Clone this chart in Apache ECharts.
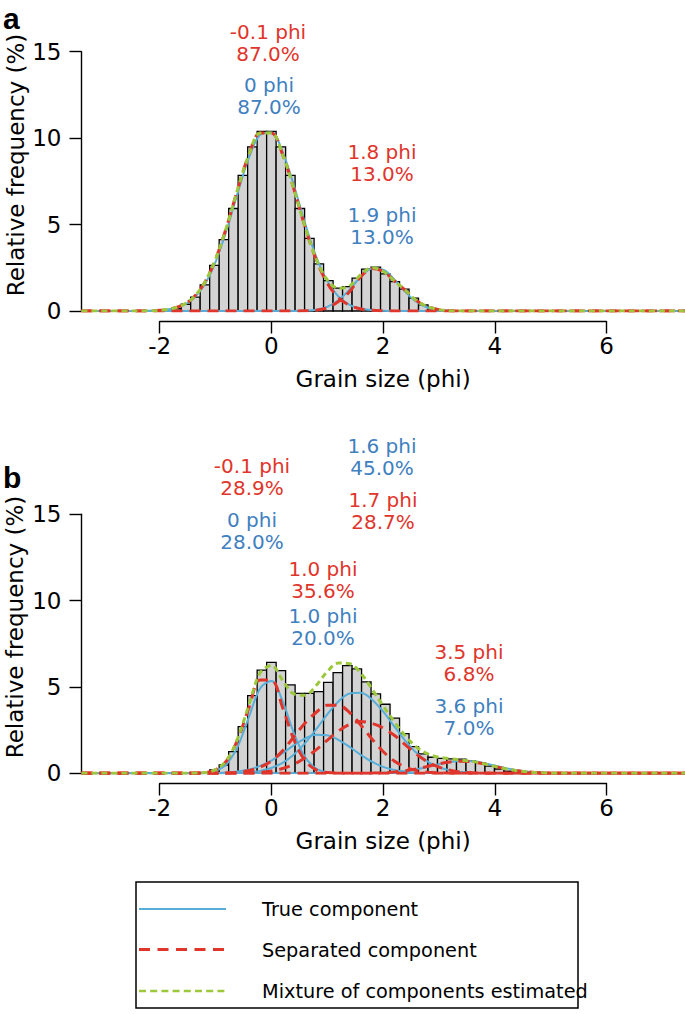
<!DOCTYPE html>
<html>
<head>
<meta charset="utf-8">
<script src="https://cdn.jsdelivr.net/npm/echarts@6/dist/echarts.min.js"></script>
<style>
html,body{margin:0;padding:0;background:#ffffff;}
#chart{width:685px;height:1014px;}
</style>
</head>
<body>
<div id="chart"></div>
<script>
// ---------------- DATA ----------------
const BIN_WIDTH = 0.17;
const xTicks = [-2, 0, 2, 4, 6];
const yTicks = [0, 5, 10, 15];

// panel a: histogram
const aBinCenters = [-1.87,-1.70,-1.53,-1.36,-1.19,-1.02,-0.85,-0.68,-0.51,-0.34,-0.17,0,0.17,0.34,0.51,0.68,0.85,1.02,1.19,1.36,1.53,1.70,1.87,2.04,2.21,2.38,2.55,2.72,2.89];
const aFrequency  = [0.04,0.13,0.39,0.8,1.51,2.64,4.13,5.93,7.85,9.5,10.39,10.39,9.5,7.85,5.93,4.2,2.73,1.76,1.32,1.41,1.9,2.42,2.54,2.15,1.7,1.26,0.74,0.35,0.12];

// panel a: curves
const aCurveX  = [-2.4,-2.2,-2.0,-1.8,-1.6,-1.4,-1.2,-1.0,-0.8,-0.6,-0.4,-0.2,0,0.2,0.4,0.6,0.8,1.0,1.2,1.4,1.6,1.8,2.0,2.2,2.4,2.6,2.8,3.0,3.2,3.4];
const aTrue1   = [0,0.01,0.04,0.11,0.30,0.71,1.51,2.83,4.69,6.86,8.88,10.2,10.33,9.21,7.30,5.11,3.16,1.73,0.84,0.36,0.14,0.05,0.01,0,0,0,0,0,0,0];
const aTrue2   = [0,0,0,0,0,0,0,0,0,0,0,0,0,0,0,0.02,0.07,0.24,0.62,1.24,1.97,2.45,2.39,1.83,1.10,0.52,0.19,0.06,0.01,0];
const aSep1    = [0,0.01,0.04,0.12,0.33,0.77,1.62,2.99,4.89,7.08,9.06,10.3,10.3,9.06,7.08,4.89,2.99,1.62,0.77,0.33,0.12,0.04,0.01,0,0,0,0,0,0,0];
const aSep2    = [0,0,0,0,0,0,0,0,0,0,0,0,0,0,0,0.01,0.04,0.18,0.55,1.12,1.98,2.46,2.29,1.75,1.20,0.60,0.25,0.08,0.02,0];
const aMixture = [0,0.01,0.04,0.12,0.33,0.77,1.62,2.99,4.89,7.08,9.06,10.3,10.3,9.06,7.08,4.90,3.03,1.80,1.32,1.45,2.10,2.50,2.30,1.75,1.20,0.60,0.25,0.08,0.02,0];

// panel b: histogram
const bBinCenters = [-1.19,-1.02,-0.85,-0.68,-0.51,-0.34,-0.17,0,0.17,0.34,0.51,0.68,0.85,1.02,1.19,1.36,1.53,1.70,1.87,2.04,2.21,2.38,2.55,2.72,2.89,3.06,3.23,3.40,3.57,3.74,3.91,4.08,4.25,4.42];
const bFrequency  = [0.05,0.2,0.48,1.25,2.7,4.5,5.98,6.43,5.95,5.12,4.63,4.63,4.73,5.27,5.83,6.24,6.05,5.3,4.6,4.0,3.2,2.3,1.55,1.12,0.93,0.86,0.83,0.82,0.72,0.6,0.42,0.25,0.12,0.05];

// panel b: curves
const bCurveX  = [-1.6,-1.4,-1.2,-1.0,-0.8,-0.6,-0.4,-0.2,0,0.2,0.4,0.6,0.8,1.0,1.2,1.4,1.6,1.8,2.0,2.2,2.4,2.6,2.8,3.0,3.2,3.4,3.6,3.8,4.0,4.2,4.4,4.6,4.8,5.0,5.2,5.4];
const bTrue1   = [0,0,0.02,0.14,0.54,1.57,3.28,4.93,5.35,4.18,2.36,0.96,0.28,0.06,0.01,0,0,0,0,0,0,0,0,0,0,0,0,0,0,0,0,0,0,0,0,0];
const bTrue2   = [0,0,0,0.01,0.04,0.10,0.22,0.43,0.74,1.16,1.62,2.01,2.23,2.20,1.94,1.53,1.07,0.67,0.37,0.19,0.08,0.03,0.01,0,0,0,0,0,0,0,0,0,0,0,0,0];
const bTrue3   = [0,0,0,0,0.01,0.02,0.06,0.14,0.31,0.60,1.07,1.73,2.54,3.41,4.16,4.62,4.67,4.28,3.58,2.72,1.88,1.18,0.68,0.35,0.17,0.07,0.03,0.01,0,0,0,0,0,0,0,0];
const bTrue4   = [0,0,0,0,0,0,0,0,0,0,0,0,0,0,0,0,0,0.01,0.03,0.07,0.13,0.24,0.38,0.53,0.65,0.72,0.70,0.60,0.45,0.30,0.18,0.09,0.04,0.02,0.01,0];
const bSep1    = [0,0.01,0.04,0.20,0.74,1.98,3.81,5.4,5.4,3.81,1.98,0.74,0.20,0.04,0.01,0,0,0,0,0,0,0,0,0,0,0,0,0,0,0,0,0,0,0,0,0];
const bSep2    = [0,0,0,0.01,0.02,0.06,0.16,0.36,0.71,1.30,2.10,2.90,3.52,3.94,3.94,3.52,2.80,1.99,1.26,0.71,0.36,0.16,0.06,0.02,0.01,0,0,0,0,0,0,0,0,0,0,0];
const bSep3    = [0,0,0,0,0,0.01,0.02,0.06,0.14,0.28,0.52,0.88,1.36,1.91,2.44,2.83,3.00,2.89,2.62,2.20,1.65,1.10,0.66,0.36,0.18,0.07,0.03,0.01,0,0,0,0,0,0,0,0];
const bSep4    = [0,0,0,0,0,0,0,0,0,0,0,0,0,0,0,0,0,0.01,0.03,0.08,0.15,0.26,0.40,0.55,0.66,0.70,0.66,0.55,0.40,0.26,0.15,0.08,0.03,0.01,0,0];
const bMixture = [0,0.01,0.04,0.21,0.76,2.05,3.99,5.82,6.25,5.39,4.60,4.52,5.08,5.89,6.39,6.35,5.80,4.89,3.91,2.99,2.16,1.52,1.12,0.93,0.85,0.77,0.69,0.56,0.40,0.26,0.15,0.08,0.03,0.01,0,0];

// annotation texts
const aSepLabels  = ['-0.1 phi\n87.0%', '1.8 phi\n13.0%'];
const aTrueLabels = ['0 phi\n87.0%', '1.9 phi\n13.0%'];
const bSepLabels  = ['-0.1 phi\n28.9%', '1.0 phi\n35.6%', '1.7 phi\n28.7%', '3.5 phi\n6.8%'];
const bTrueLabels = ['0 phi\n28.0%', '1.0 phi\n20.0%', '1.6 phi\n45.0%', '3.6 phi\n7.0%'];
const legendNames = ['True component', 'Separated component', 'Mixture of components estimated'];

// ---------------- STYLE / LAYOUT ----------------
const FONT = 'DejaVu Sans';
const RED = '#e0352b', BLUE_LINE = '#56aed9', BLUE_TEXT = '#3f80bf', GREEN = '#9dc83c';
const AX_MIN = -3.4, AX_MAX = 7.41;
const styleTrue = {color: BLUE_LINE, width: 2, type: 'solid'};
const styleSep  = {color: RED, width: 3, type: [11, 7]};
const styleMix  = {color: GREEN, width: 3, type: [6, 4]};

function curveData(xs, ys) {
  const d = [[AX_MIN, 0]];
  for (let i = 0; i < xs.length; i++) d.push([xs[i], ys[i]]);
  d.push([AX_MAX, 0]);
  return d;
}
function lineSeries(name, idx, xs, ys, style, z) {
  return {name: name, type: 'line', xAxisIndex: idx, yAxisIndex: idx, data: curveData(xs, ys),
    symbol: 'none', showSymbol: false, smooth: 0.35, lineStyle: style, z: z, silent: true, animation: false};
}
function barSeries(idx, centers, freqs) {
  const data = centers.map((c, i) => [c, freqs[i]]);
  return {type: 'custom', xAxisIndex: idx, yAxisIndex: idx, data: data, z: 1, silent: true,
    encode: {x: 0, y: 1},
    renderItem: function (params, api) {
      const x = api.value(0), y = api.value(1);
      const p0 = api.coord([x - BIN_WIDTH / 2, y]);
      const p1 = api.coord([x + BIN_WIDTH / 2, 0]);
      return {type: 'rect', shape: {x: p0[0], y: p0[1], width: p1[0] - p0[0], height: p1[1] - p0[1]},
        style: {fill: '#d3d3d3', stroke: '#000', lineWidth: 1.3}};
    }};
}

const axisLineStyle = {show: true, onZero: false, lineStyle: {color: '#000', width: 1.4}};
const axisTickStyle = {show: true, inside: false, length: 12, lineStyle: {color: '#000', width: 1.4}};
function yAxisMain(gi) {
  return {gridIndex: gi, type: 'value', min: yTicks[0], max: yTicks[yTicks.length - 1], interval: yTicks[1] - yTicks[0],
    axisLine: axisLineStyle, axisTick: axisTickStyle, splitLine: {show: false},
    axisLabel: {color: '#000', fontFamily: FONT, fontSize: 23, margin: 20}};
}
function xAxisShown(gi) {
  return {gridIndex: gi, type: 'value', min: xTicks[0], max: xTicks[xTicks.length - 1], interval: xTicks[1] - xTicks[0],
    position: 'bottom', axisLine: axisLineStyle, axisTick: axisTickStyle, splitLine: {show: false},
    axisLabel: {color: '#000', fontFamily: FONT, fontSize: 23, margin: 13},
    name: 'Grain size (phi)', nameLocation: 'middle', nameGap: 46,
    nameTextStyle: {color: '#000', fontFamily: FONT, fontSize: 23}};
}

function textEl(text, x, y, color, size, extra) {
  return Object.assign({type: 'text', x: x, y: y, silent: true,
    style: {text: text, fill: color, font: size + 'px "' + FONT + '"', align: 'center', verticalAlign: 'middle', lineHeight: 22}}, extra || {});
}

const graphics = [
  {type: 'text', x: 3, y: 18, style: {text: 'a', fill: '#000', font: 'bold 30px "Liberation Sans"', align: 'left', verticalAlign: 'middle'}},
  {type: 'text', x: 3, y: 477, style: {text: 'b', fill: '#000', font: 'bold 30px "Liberation Sans"', align: 'left', verticalAlign: 'middle'}},
  textEl('Relative frequency (%)', 16, 165, '#000', 23, {rotation: Math.PI / 2}),
  textEl('Relative frequency (%)', 15, 627, '#000', 23, {rotation: Math.PI / 2}),
  // panel a annotations
  textEl(aSepLabels[0], 268, 43, RED, 20),
  textEl(aTrueLabels[0], 269, 96, BLUE_TEXT, 20),
  textEl(aSepLabels[1], 382, 163, RED, 20),
  textEl(aTrueLabels[1], 382, 226, BLUE_TEXT, 20),
  // panel b annotations
  textEl(bTrueLabels[2], 382, 457, BLUE_TEXT, 20),
  textEl(bSepLabels[0], 252, 477, RED, 20),
  textEl(bSepLabels[2], 383, 511, RED, 20),
  textEl(bTrueLabels[0], 252, 531, BLUE_TEXT, 20),
  textEl(bSepLabels[1], 323, 580, RED, 20),
  textEl(bTrueLabels[1], 323, 627, BLUE_TEXT, 20),
  textEl(bSepLabels[3], 469, 663, RED, 20),
  textEl(bTrueLabels[3], 469, 717, BLUE_TEXT, 20),
  // legend
  {type: 'rect', shape: {x: 136, y: 882, width: 442, height: 126}, style: {fill: 'none', stroke: '#000', lineWidth: 1.5}, silent: true},
  {type: 'line', shape: {x1: 139, y1: 909, x2: 226, y2: 909}, style: {stroke: BLUE_LINE, lineWidth: 2}, silent: true},
  {type: 'line', shape: {x1: 139, y1: 949.5, x2: 226, y2: 949.5}, style: {stroke: RED, lineWidth: 3, lineDash: [11, 7.5]}, silent: true},
  {type: 'line', shape: {x1: 139, y1: 991, x2: 226, y2: 991}, style: {stroke: GREEN, lineWidth: 2.5, lineDash: [7, 4.2]}, silent: true},
  {type: 'text', x: 262, y: 909, style: {text: legendNames[0], fill: '#000', font: '19.3px "' + FONT + '"', align: 'left', verticalAlign: 'middle'}, silent: true},
  {type: 'text', x: 262, y: 950, style: {text: legendNames[1], fill: '#000', font: '19.3px "' + FONT + '"', align: 'left', verticalAlign: 'middle'}, silent: true},
  {type: 'text', x: 262, y: 991, style: {text: legendNames[2], fill: '#000', font: '19.3px "' + FONT + '"', align: 'left', verticalAlign: 'middle'}, silent: true}
];

const GRID_LEFT = 81.5, GRID_W = 603.7;
const option = {
  backgroundColor: '#ffffff',
  animation: false,
  grid: [
    {left: GRID_LEFT, top: 51.7, width: GRID_W, height: 259.3, containLabel: false, outerBoundsMode: 'none'},
    {left: 159.7, top: 300, width: 446.8, height: 21.5, containLabel: false, outerBoundsMode: 'none'},
    {left: GRID_LEFT, top: 514.3, width: GRID_W, height: 259, containLabel: false, outerBoundsMode: 'none'},
    {left: 159.7, top: 760, width: 446.8, height: 23.5, containLabel: false, outerBoundsMode: 'none'}
  ],
  xAxis: [
    {gridIndex: 0, type: 'value', min: AX_MIN, max: AX_MAX, show: false},
    xAxisShown(1),
    {gridIndex: 2, type: 'value', min: AX_MIN, max: AX_MAX, show: false},
    xAxisShown(3)
  ],
  yAxis: [
    yAxisMain(0),
    {gridIndex: 1, type: 'value', min: 0, max: 1, show: false},
    yAxisMain(2),
    {gridIndex: 3, type: 'value', min: 0, max: 1, show: false}
  ],
  series: [
    barSeries(0, aBinCenters, aFrequency),
    lineSeries('True component', 0, aCurveX, aTrue1, styleTrue, 2),
    lineSeries('True component', 0, aCurveX, aTrue2, styleTrue, 2),
    lineSeries('Separated component', 0, aCurveX, aSep1, styleSep, 3),
    lineSeries('Separated component', 0, aCurveX, aSep2, styleSep, 3),
    lineSeries('Mixture of components estimated', 0, aCurveX, aMixture, styleMix, 4),

    barSeries(2, bBinCenters, bFrequency),
    lineSeries('True component', 2, bCurveX, bTrue1, styleTrue, 2),
    lineSeries('True component', 2, bCurveX, bTrue2, styleTrue, 2),
    lineSeries('True component', 2, bCurveX, bTrue3, styleTrue, 2),
    lineSeries('True component', 2, bCurveX, bTrue4, styleTrue, 2),
    lineSeries('Separated component', 2, bCurveX, bSep1, styleSep, 3),
    lineSeries('Separated component', 2, bCurveX, bSep2, styleSep, 3),
    lineSeries('Separated component', 2, bCurveX, bSep3, styleSep, 3),
    lineSeries('Separated component', 2, bCurveX, bSep4, styleSep, 3),
    lineSeries('Mixture of components estimated', 2, bCurveX, bMixture, styleMix, 4)
  ],
  graphic: graphics
};

const chart = echarts.init(document.getElementById('chart'), null, {renderer: 'svg'});
chart.setOption(option);
</script>
</body>
</html>
